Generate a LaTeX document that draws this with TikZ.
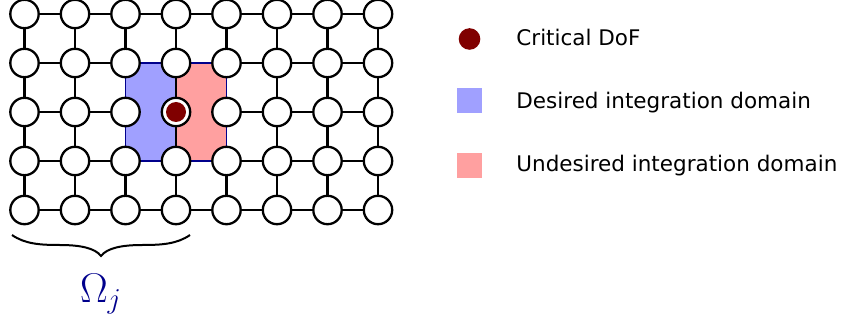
\documentclass[tikz,border=0pt]{standalone}
\usepackage{fontspec}
\setsansfont{DejaVu Sans}
\usetikzlibrary{positioning}

\definecolor{critred}{RGB}{128,0,0}
\definecolor{wantblue}{RGB}{160,160,255}
\definecolor{unwantred}{RGB}{255,160,160}
\definecolor{domainnavy}{RGB}{0,0,140}

\begin{document}
\begin{tikzpicture}[
        x=0.5pt, y=-0.5pt,
        dofnode/.style={circle, draw=black, fill=white, line width=1.15pt, minimum size=14.2pt, inner sep=0pt},
        critdot/.style={circle, fill=critred, minimum size=10pt, inner sep=0pt},
        edge/.style={line width=1.15pt},
        intdomain/.style={draw=domainnavy, line width=0.9pt},
        keybox/.style={rectangle, minimum size=12.5pt, inner sep=0pt},
        keytext/.style={anchor=base west, inner sep=0pt, font=\sffamily\fontsize{10.75}{13}\selectfont}
    ]
    \useasboundingbox (0,0) rectangle (844,320);

    % grid points
    \foreach \i in {1,...,8}
        \foreach \j in {1,...,5}
            \coordinate (p\i-\j) at ({24.5+50.5*(\i-1)},{14+49*(\j-1)});

    % integration domains
    \draw[intdomain, fill=wantblue] (p3-2) rectangle (p4-4);
    \draw[intdomain, fill=unwantred] (p4-2) rectangle (p5-4);

    % degrees of freedom
    \foreach \i in {1,...,8}
        \foreach \j in {1,...,5}
            \node[dofnode] (n\i-\j) at (p\i-\j) {};
    \node[critdot] (crit) at (n4-3) {};

    % horizontal edges
    \foreach \i in {1,...,7} {
        \pgfmathtruncatemacro\inext{\i+1}
        \foreach \j in {1,...,5} {
            \pgfmathtruncatemacro\noedge{(\i>2)*(\i<5)*(\j>1)*(\j<5)}
            \ifnum\noedge=0 \draw[edge] (n\i-\j) -- (n\inext-\j); \fi
        }
    }
    % vertical edges
    \foreach \i in {1,...,8} {
        \foreach \j in {1,...,4} {
            \pgfmathtruncatemacro\jnext{\j+1}
            \pgfmathtruncatemacro\noedge{((\i==3)+(\i==5))*(\j>1)*(\j<4)}
            \ifnum\noedge=0 \draw[edge] (n\i-\j) -- (n\i-\jnext); \fi
        }
    }

    % subdomain brace
    \draw[line width=1pt] (12,235) .. controls (25,244) and (40,245) .. (60,245)
        .. controls (80,245) and (95,248) .. (101,256)
        .. controls (107,248) and (122,245) .. (142,245)
        .. controls (162,245) and (177,244) .. (190,235);
    \node[text=domainnavy, anchor=base, inner sep=0pt, font=\fontsize{22}{26}\selectfont] (omega) at (101,302) {$\Omega_j$};

    % legend
    \node[critdot, minimum size=10.8pt] (keycrit) at (469.5,39) {};
    \node[keybox, fill=wantblue] (keywant) at (469.5,100.5) {};
    \node[keybox, fill=unwantred] (keyunwant) at (469.5,165.5) {};
    \node[keytext] (labcrit) at (516,46) {Critical DoF};
    \node[keytext] (labwant) at (516,109) {Desired integration domain};
    \node[keytext] (labunwant) at (516,172) {Undesired integration domain};
\end{tikzpicture}
\end{document}
